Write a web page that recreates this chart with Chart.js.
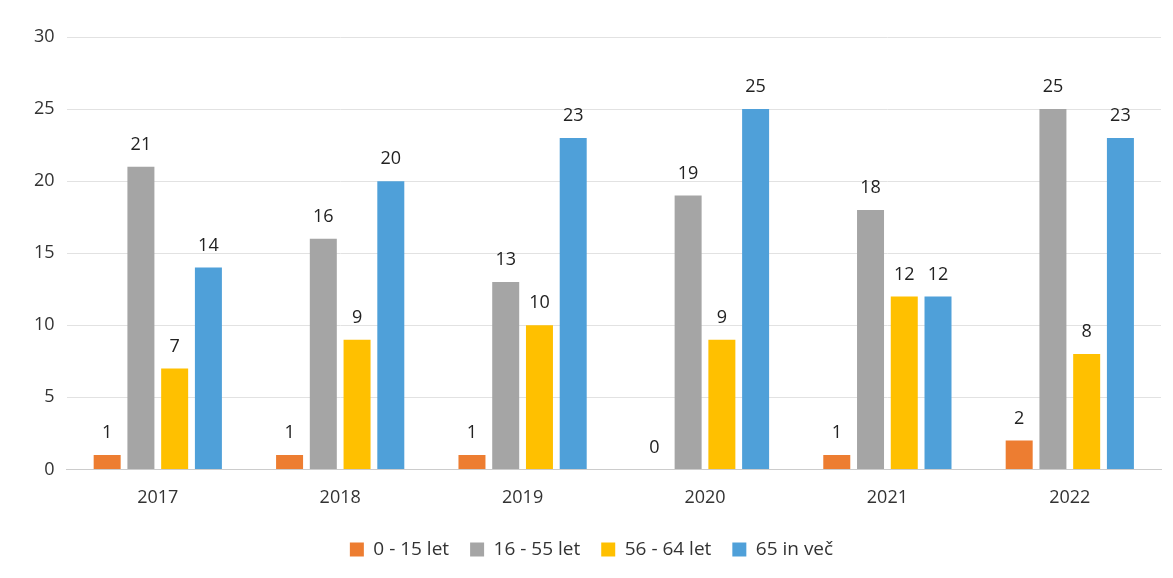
<!DOCTYPE html>
<html lang="sl">
<head>
  <meta charset="UTF-8">
  <title>Starostne skupine</title>
  <style>
    html, body { margin: 0; padding: 0; background: #fff; }
    #wrap { width: 1173px; height: 578px; position: relative; }
  </style>
  <script src="https://cdn.jsdelivr.net/npm/chart.js"></script>
</head>
<body>
  <div id="wrap"><canvas id="myChart"></canvas></div>
  <script>
    // podatki
    const years = ['2017', '2018', '2019', '2020', '2021', '2022'];
    const age0to15 = [1, 1, 1, 0, 1, 2];
    const age16to55 = [21, 16, 13, 19, 18, 25];
    const age56to64 = [7, 9, 10, 9, 12, 8];
    const age65plus = [14, 20, 23, 25, 12, 23];
    const seriesNames = ['0 - 15 let', '16 - 55 let', '56 - 64 let', '65 in več'];
    const yTicks = [0, 5, 10, 15, 20, 25, 30];

    const colors = ['#ED7D31', '#A5A5A5', '#FFC000', '#4FA0D9'];
    const font = "'Open Sans', sans-serif";

    // oznake vrednosti nad stolpci
    const valueLabels = {
      id: 'valueLabels',
      afterDatasetsDraw(chart) {
        const ctx = chart.ctx;
        ctx.save();
        ctx.font = '18px ' + font;
        ctx.fillStyle = '#222';
        ctx.textAlign = 'center';
        ctx.textBaseline = 'bottom';
        chart.data.datasets.forEach((ds, i) => {
          chart.getDatasetMeta(i).data.forEach((bar, j) => {
            ctx.fillText(ds.data[j], bar.x, bar.y - 13);
          });
        });
        ctx.restore();
      }
    };

    const datasets = [age0to15, age16to55, age56to64, age65plus].map((d, i) => ({
      label: seriesNames[i],
      data: d,
      backgroundColor: colors[i],
      barPercentage: 0.8,
      categoryPercentage: 0.74
    }));

    new Chart(document.getElementById('myChart'), {
      type: 'bar',
      data: { labels: years, datasets: datasets },
      options: {
        responsive: true,
        maintainAspectRatio: false,
        animation: false,
        layout: { padding: { left: 22, right: 12, top: 37, bottom: 9 } },
        plugins: {
          legend: {
            position: 'bottom',
            labels: {
              boxWidth: 14, boxHeight: 14, padding: 21,
              color: '#333',
              font: { family: font, size: 19 }
            }
          },
          tooltip: { enabled: false }
        },
        scales: {
          x: {
            grid: { display: false },
            border: { color: '#ccc' },
            ticks: { color: '#333', font: { family: font, size: 18 }, padding: 10 }
          },
          y: {
            min: 0, max: 30,
            afterBuildTicks(axis) { axis.ticks = yTicks.map(v => ({ value: v })); },
            grid: { color: '#e2e2e2', drawTicks: false },
            border: { display: false },
            ticks: { color: '#333', font: { family: font, size: 18 }, padding: 12 }
          }
        }
      },
      plugins: [valueLabels]
    });
  </script>
</body>
</html>
